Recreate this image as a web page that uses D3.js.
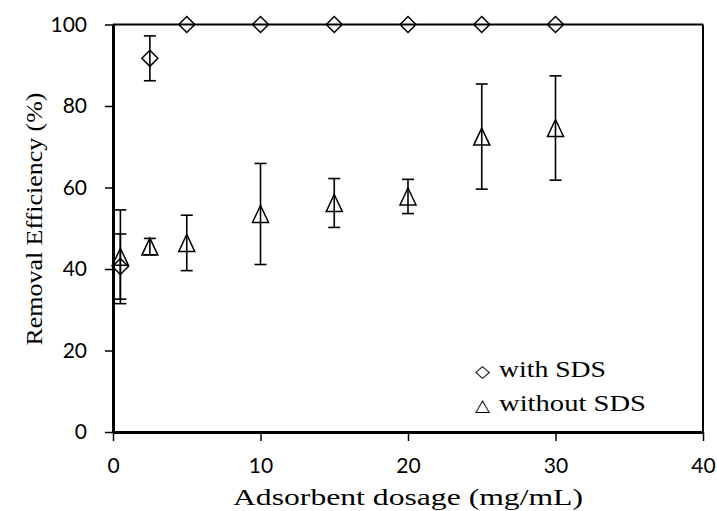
<!DOCTYPE html>
<html><head><meta charset="utf-8">
<script src="https://cdn.jsdelivr.net/npm/d3@7"></script>
<style>body{margin:0;background:#fff}</style>
</head><body>
<svg id="c" width="717" height="511"></svg>
<script>
const dosage = [0.5, 2.5, 5, 10, 15, 20, 25, 30];
const withSDS = [40.6, 91.7, 100, 100, 100, 100, 100, 100];
const withSDSErr = [8.0, 5.5, 0, 0, 0, 0, 0, 0];
const withoutSDS = [43.0, 45.5, 46.4, 53.5, 56.2, 57.8, 72.5, 74.6];
const withoutSDSErr = [11.5, 2.0, 6.8, 12.4, 6.0, 4.2, 12.9, 12.8];
const xTicks = [0, 10, 20, 30, 40];
const yTicks = [0, 20, 40, 60, 80, 100];
const seriesNames = ["with SDS", "without SDS"];

const svg = d3.select("#c");
const x = d3.scaleLinear().domain([0, 40]).range([113, 703]);
const y = d3.scaleLinear().domain([0, 100]).range([432, 24.5]);

// frame
svg.append("line").attr("x1", x(0)).attr("x2", x(40)).attr("y1", y(100)).attr("y2", y(100)).attr("stroke", "#000").attr("stroke-width", 2);
svg.append("line").attr("x1", x(40)).attr("x2", x(40)).attr("y1", y(100)).attr("y2", y(0)).attr("stroke", "#000").attr("stroke-width", 2);

const xAxis = svg.append("g").attr("transform", `translate(0,${y(0)})`)
  .call(d3.axisBottom(x).tickValues(xTicks).tickSize(9).tickPadding(17).tickSizeOuter(0));
const yAxis = svg.append("g").attr("transform", `translate(${x(0)},0)`)
  .call(d3.axisLeft(y).tickValues(yTicks).tickSize(8).tickPadding(18).tickSizeOuter(0));
[xAxis, yAxis].forEach(g => {
  g.select(".domain").attr("stroke", "#000").attr("stroke-width", 3);
  g.selectAll(".tick line").attr("stroke", "#000").attr("stroke-width", 1.5);
  g.selectAll(".tick text").attr("fill", "#000").style("font-family", "Lato, 'Open Sans', sans-serif").style("font-size", "21px");
});

function errBars(vals, errs, cls) {
  const g = svg.append("g").attr("class", cls);
  dosage.forEach((d, i) => {
    if (!errs[i]) return;
    const cx = x(d), lo = y(vals[i] - errs[i]), hi = y(vals[i] + errs[i]);
    g.append("line").attr("x1", cx).attr("x2", cx).attr("y1", lo).attr("y2", hi);
    g.append("line").attr("x1", cx - 6).attr("x2", cx + 6).attr("y1", lo).attr("y2", lo);
    g.append("line").attr("x1", cx - 6).attr("x2", cx + 6).attr("y1", hi).attr("y2", hi);
  });
  g.selectAll("line").attr("stroke", "#000").attr("stroke-width", 1.6);
}
errBars(withoutSDS, withoutSDSErr, "eb2");
errBars(withSDS, withSDSErr, "eb1");

const diamond = "M0,-8L8,0L0,8L-8,0Z";
const triangle = "M0,-8.5L8,8.5L-8,8.5Z";
svg.append("g").selectAll("path").data(dosage).join("path")
  .attr("d", triangle).attr("transform", (d, i) => `translate(${x(d)},${y(withoutSDS[i])})`)
  .attr("fill", "none").attr("stroke", "#000").attr("stroke-width", 1.5);
svg.append("g").selectAll("path").data(dosage).join("path")
  .attr("d", diamond).attr("transform", (d, i) => `translate(${x(d)},${y(withSDS[i])})`)
  .attr("fill", "none").attr("stroke", "#000").attr("stroke-width", 1.5);

// titles
const serif = "'Liberation Serif', 'Times New Roman', serif";
svg.append("text").attr("x", 408).attr("y", 505).attr("text-anchor", "middle")
  .style("font-family", serif).style("font-size", "24px").attr("textLength", 350).attr("lengthAdjust", "spacingAndGlyphs")
  .text("Adsorbent dosage (mg/mL)");
svg.append("text").attr("transform", "translate(42,219) rotate(-90)").attr("text-anchor", "middle")
  .style("font-family", serif).style("font-size", "24px").attr("textLength", 253).attr("lengthAdjust", "spacingAndGlyphs")
  .text("Removal Efficiency (%)");

// legend
const legendSyms = ["◇", "△"];
const legendY = [377, 411];
const legendW = [107, 147];
seriesNames.forEach((lab, i) => {
  svg.append("text").attr("x", 475).attr("y", legendY[i]).style("font-family", "'DejaVu Sans', sans-serif")
    .style("font-size", "17px").attr("textLength", 15).attr("lengthAdjust", "spacingAndGlyphs").text(legendSyms[i]);
  svg.append("text").attr("x", 499).attr("y", legendY[i]).style("font-family", serif)
    .style("font-size", "23px").attr("textLength", legendW[i]).attr("lengthAdjust", "spacingAndGlyphs").text(lab);
});
</script>
</body></html>
